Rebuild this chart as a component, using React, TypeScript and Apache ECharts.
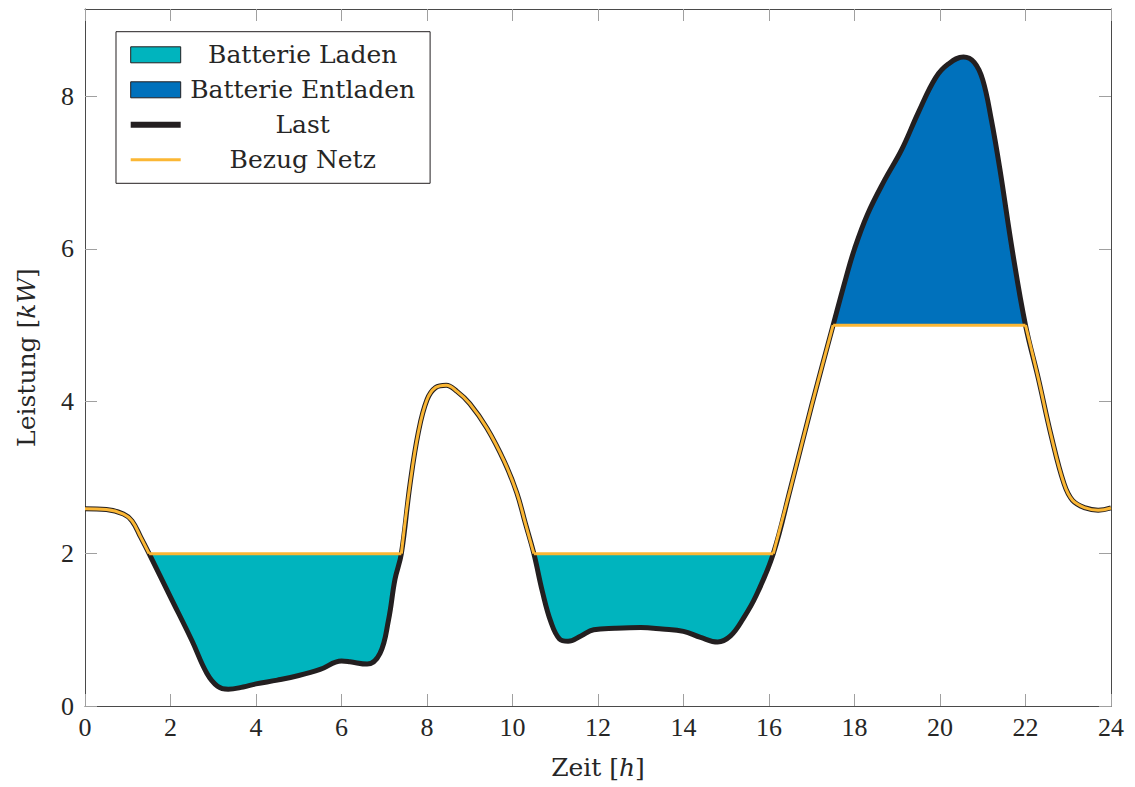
import React, { useEffect, useRef } from "react";
import * as echarts from "echarts";

// Time of day in hours and the load ("Last") in kW
const hours = [
  0, 0.5, 0.9, 1.1, 1.3, 1.5, 2.0, 2.5, 2.85, 3.1, 3.35, 3.7, 4.0, 4.5, 5.0, 5.5, 6.0, 6.2, 6.6, 6.9,
  7.1, 7.25, 7.4, 7.6, 7.8, 8.0, 8.2, 8.45, 8.7, 9.0, 9.4, 9.8, 10.1, 10.3, 10.5, 10.7, 10.9, 11.1,
  11.3, 11.6, 11.9, 12.4, 13.0, 13.5, 14.0, 14.4, 14.8, 15.1, 15.4, 15.7, 16.1, 16.5, 17.0, 17.5,
  17.8, 18.0, 18.3, 18.7, 19.1, 19.5, 19.9, 20.2, 20.55, 20.8, 21.0, 21.2, 21.4, 21.7, 22.0, 22.3,
  22.6, 22.9, 23.1, 23.4, 23.7, 24.0,
];
const last = [
  2.59, 2.58, 2.52, 2.43, 2.22, 2.0, 1.43, 0.86, 0.43, 0.26, 0.22, 0.25, 0.29, 0.34, 0.4, 0.48, 0.59,
  0.58, 0.55, 0.69, 1.13, 1.66, 2.0, 2.9, 3.6, 4.02, 4.18, 4.21, 4.13, 3.97, 3.65, 3.22, 2.8, 2.4, 2.0,
  1.5, 1.1, 0.88, 0.85, 0.92, 1.0, 1.02, 1.03, 1.01, 0.98, 0.9, 0.84, 0.92, 1.15, 1.45, 2.0, 2.85, 3.95,
  5.0, 5.62, 6.0, 6.45, 6.9, 7.3, 7.8, 8.25, 8.43, 8.52, 8.45, 8.22, 7.7, 7.05, 5.95, 5.0, 4.3, 3.55,
  2.92, 2.7, 2.6, 2.57, 2.6,
];
// Grid supply limits
const chargeLevel = 2;
const dischargeLevel = 5;
const chargeWindows = [
  [1.5, 7.4],
  [10.5, 16.1],
];
const dischargeWindows = [[17.5, 22]];
const yTickValues = [0, 2, 4, 6, 8];

const CYAN = "#00B4BE";
const BLUE = "#0071BC";
const BLACK = "#231F20";
const ORANGE = "#FBB735";
const WORD_FONT = "DejaVu Serif";
const NUM_FONT = "Liberation Serif";
const TEXT = "#262626";

const pts = (a: number, b: number) =>
  hours.map((h, i) => [h, last[i]]).filter(([h]) => h >= a - 1e-9 && h <= b + 1e-9);

export default function App() {
  const ref = useRef<HTMLDivElement>(null);
  useEffect(() => {
    if (!ref.current) return;
    const chart = echarts.init(ref.current, undefined, { renderer: "svg" });
    const SMOOTH = 0.4;
    const series: any[] = [];
    chargeWindows.forEach(([a, b]) =>
      series.push({
        type: "line",
        name: "Batterie Laden",
        data: pts(a, b),
        smooth: SMOOTH,
        symbol: "none",
        color: CYAN,
        lineStyle: { width: 0, opacity: 0 },
        areaStyle: { origin: chargeLevel, color: CYAN, opacity: 1 },
      })
    );
    dischargeWindows.forEach(([a, b]) =>
      series.push({
        type: "line",
        name: "Batterie Entladen",
        data: pts(a, b),
        smooth: SMOOTH,
        symbol: "none",
        color: BLUE,
        lineStyle: { width: 0, opacity: 0 },
        areaStyle: { origin: dischargeLevel, color: BLUE, opacity: 1 },
      })
    );
    series.push({
      type: "line",
      name: "Last",
      data: hours.map((h, i) => [h, last[i]]),
      smooth: SMOOTH,
      symbol: "none",
      color: BLACK,
      lineStyle: { width: 5, color: BLACK, join: "round" },
    });
    // grid supply: follows load outside battery windows, flat at limits inside
    const windows = [
      ...chargeWindows.map(([a, b]) => [a, b, chargeLevel]),
      ...dischargeWindows.map(([a, b]) => [a, b, dischargeLevel]),
    ].sort((p, q) => p[0] - q[0]);
    let start = hours[0];
    const bezugSeg = (data: number[][], smooth: number) =>
      series.push({
        type: "line",
        name: "Bezug Netz",
        data,
        smooth,
        symbol: "none",
        color: ORANGE,
        lineStyle: { width: 3, color: ORANGE },
      });
    windows.forEach(([a, b, lvl]) => {
      bezugSeg(pts(start, a), SMOOTH);
      bezugSeg(
        [
          [a, lvl],
          [b, lvl],
        ],
        0
      );
      start = b;
    });
    bezugSeg(pts(start, hours[hours.length - 1]), SMOOTH);

    const axisLine = { show: true, onZero: false, lineStyle: { color: "#4a4a4a", width: 1 } };
    const axisTick = { show: true, inside: true, length: 12, lineStyle: { color: "#a0a0a0", width: 1 } };
    const nameRich = {
      n: { fontFamily: WORD_FONT, fontSize: 25, color: TEXT },
      i: { fontFamily: WORD_FONT, fontSize: 25, fontStyle: "italic", color: TEXT },
    };

    chart.setOption({
      animation: false,
      backgroundColor: "#ffffff",
      grid: { left: 85, right: 24, top: 9, bottom: 81, containLabel: false },
      legend: {
        orient: "vertical",
        left: 116,
        top: 31.7,
        padding: [10.6, 10.4, 11, 11.7],
        itemGap: 10,
        itemWidth: 50,
        itemHeight: 16,
        borderColor: BLACK,
        borderWidth: 1,
        backgroundColor: "#ffffff",
        selectedMode: false,
        data: [
          { name: "Batterie Laden", icon: "rect", itemStyle: { color: CYAN, borderColor: BLACK, borderWidth: 1 } },
          { name: "Batterie Entladen", icon: "rect", itemStyle: { color: BLUE, borderColor: BLACK, borderWidth: 1 } },
          { name: "Last", itemStyle: { opacity: 0 }, lineStyle: { width: 6, color: BLACK, opacity: 1 } },
          { name: "Bezug Netz", itemStyle: { opacity: 0 }, lineStyle: { width: 3, color: ORANGE, opacity: 1 } },
        ],
        formatter: (name: string) => `{c|${name}}`,
        textStyle: {
          color: TEXT,
          fontFamily: WORD_FONT,
          fontSize: 25,
          rich: {
            c: { width: 234, align: "center", fontFamily: WORD_FONT, fontSize: 25, lineHeight: 26, color: TEXT },
          },
        },
      },
      xAxis: [
        {
          type: "value",
          position: "bottom",
          min: 0,
          max: 24,
          interval: 2,
          axisLine,
          axisTick,
          splitLine: { show: false },
          axisLabel: { margin: 8, fontFamily: NUM_FONT, fontSize: 26, color: TEXT, lineHeight: 26 },
          name: "{n|Zeit [}{i|h}{n|]}",
          nameLocation: "middle",
          nameGap: 49,
          nameTextStyle: { rich: nameRich },
        },
        {
          type: "value",
          position: "top",
          min: 0,
          max: 24,
          interval: 2,
          axisLine,
          axisTick,
          splitLine: { show: false },
          axisLabel: { show: false },
        },
      ],
      yAxis: [
        {
          type: "value",
          position: "left",
          min: 0,
          max: 9.15,
          interval: 2,
          axisLine,
          axisTick: { ...axisTick, customValues: yTickValues },
          splitLine: { show: false },
          axisLabel: {
            margin: 11,
            fontFamily: NUM_FONT,
            fontSize: 26,
            color: TEXT,
            customValues: yTickValues,
          },
          name: "{n|Leistung [}{i|kW}{n|]}",
          nameLocation: "middle",
          nameGap: 46,
          nameTextStyle: { rich: nameRich },
        },
        {
          type: "value",
          position: "right",
          min: 0,
          max: 9.15,
          interval: 2,
          axisLine,
          axisTick: { ...axisTick, customValues: yTickValues },
          splitLine: { show: false },
          axisLabel: { show: false },
        },
      ],
      series,
    });
    return () => chart.dispose();
  }, []);
  return (
    <div
      ref={ref}
      style={{ position: "fixed", left: 0, top: 0, width: 1135, height: 787, background: "#fff" }}
    />
  );
}
